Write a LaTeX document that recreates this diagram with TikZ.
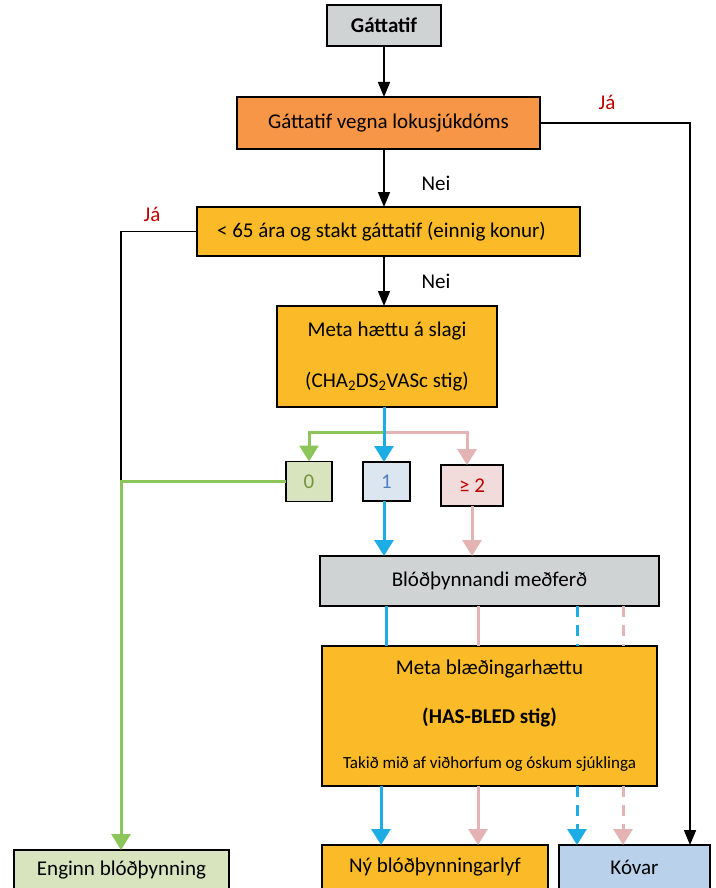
\documentclass[tikz,border=0pt]{standalone}
\usepackage{fontspec}
\setmainfont{Carlito}
\usetikzlibrary{positioning,arrows.meta}

\definecolor{grau}{HTML}{D0D3D4}
\definecolor{appel}{HTML}{F79646}
\definecolor{gult}{HTML}{FBBB29}
\definecolor{graennfyll}{HTML}{D7E4BD}
\definecolor{blafyll}{HTML}{DCE6F1}
\definecolor{bleikfyll}{HTML}{F2DCDB}
\definecolor{kovfyll}{HTML}{B9D1EA}
\definecolor{graenn}{HTML}{8CC65A}
\definecolor{blar}{HTML}{1DACE3}
\definecolor{bleikur}{HTML}{E4B3B3}
\definecolor{raudur}{HTML}{C00000}
\definecolor{graenntexti}{HTML}{77933C}
\definecolor{blatexti}{HTML}{4F81BD}

\begin{document}
\begin{tikzpicture}[x=1pt,y=1pt,
		every node/.style = {
			draw, rectangle, line width=1.2pt,
			font=\fontsize{21}{25}\selectfont,
			outer sep=0pt, inner sep=0pt,
			node distance=0pt
		},
		lbl/.style = {draw=none, fill=none},
		svart/.style = {line width=1.6pt, -{Triangle[width=12pt,length=15pt]}},
		lina/.style = {line width=3pt},
		litor/.style = {lina, -{Triangle[width=19pt,length=16pt]}},
		strik/.style = {dash pattern=on 11pt off 8pt}
		]
		\useasboundingbox (0,0) rectangle (715,-888);
		\node[fill=grau, minimum width=114, minimum height=41, font=\fontsize{21}{25}\selectfont\bfseries] (gat) at (384,-25.5) {Gáttatif};
		\node[fill=appel, minimum width=303, minimum height=52] (lok) at (388.5,-123) {Gáttatif vegna lokusjúkdóms};
		\node[fill=gult, minimum width=383, minimum height=49] (ung) at (388.5,-231.5) {\hspace*{-14pt}< 65 ára og stakt gáttatif (einnig konur)};
		\node[fill=gult, minimum width=220, minimum height=101, align=center] (meta) at (387,-356.5) {Meta hættu á slagi\\[26pt](CHA\textsubscript{2}DS\textsubscript{2}VASc stig)};
		\node[fill=blafyll, text=blatexti, minimum width=47, minimum height=39] (one) at (386.5,-481.5) {1};
		\node[fill=graennfyll, text=graenntexti, minimum width=46, minimum height=40, left=31 of one] (zero) {0};
		\node[fill=bleikfyll, text=raudur, minimum width=62, minimum height=41, right=31 of one, yshift=-4] (two) {≥ 2};
		\node[fill=grau, minimum width=339, minimum height=50] (blo) at (489.5,-581) {Blóðþynnandi meðferð};
		\node[fill=gult, minimum width=335, minimum height=140, align=center] (mbl) at (489.5,-716) {Meta blæðingarhættu\\[24pt]\textbf{(HAS-BLED stig)}\\[20pt]{\fontsize{17}{20}\selectfont Takið mið af viðhorfum og óskum sjúklinga}};
		\node[fill=graennfyll, minimum width=215, minimum height=40] (eng) at (121.5,-870) {Enginn blóðþynning};
		\node[fill=gult, minimum width=226, minimum height=45] (ny) at (435,-867.5) {Ný blóðþynningarlyf};
		\node[fill=kovfyll, minimum width=151, minimum height=45] (kov) at (634.5,-867.5) {Kóvar};
		% merki
		\node[lbl] (nei1) at (436,-183) {Nei};
		\node[lbl] (nei2) at (436,-281) {Nei};
		\node[lbl, text=raudur] (ja1) at (607,-102) {Já};
		\node[lbl, text=raudur] (ja2) at (152,-214) {Já};
		% horn
		\coordinate (hornh) at (690,-125);
		\coordinate (hornv) at (121,-233);
		\coordinate (skipt) at (384,-432);
		% svartar orvar
		\draw[svart] (gat.south) -- (gat.south |- lok.north);
		\draw[svart] (gat |- lok.south) -- (gat |- ung.north);
		\draw[svart] (gat |- ung.south) -- (gat |- meta.north);
		\draw[svart] (lok.east) -| (hornh |- kov.north);
		\draw[line width=1.6pt] (ung.west) -| (hornv |- zero.west);
		% stig
		\draw[litor, graenn] (zero.west) -- (hornv |- zero.west) -- (hornv |- eng.north);
		\draw[litor, graenn] (skipt) -| (zero.north);
		\draw[litor, bleikur] (skipt) -| ([xshift=-5pt]two.north);
		\draw[litor, blar] (skipt |- meta.south) -- (skipt |- one.north);
		\draw[litor, blar] (skipt |- one.south) -- (skipt |- blo.north);
		\draw[litor, bleikur] (two.south) -- (two.south |- blo.north);
		% blaedingarhaetta
		\foreach \xx/\lit/\stil in {386/blar/solid, 478/bleikur/solid, 577/blar/strik, 623/bleikur/strik}
			\draw[lina, \lit, \stil] (blo.south -| \xx,0) -- (mbl.north -| \xx,0);
		\foreach \xx/\lit/\stil/\mark in {381/blar/solid/ny, 478/bleikur/solid/ny, 577/blar/strik/kov, 623/bleikur/strik/kov}
			\draw[litor, \lit, \stil] (mbl.south -| \xx,0) -- (\mark.north -| \xx,0);
	\end{tikzpicture}
\end{document}
